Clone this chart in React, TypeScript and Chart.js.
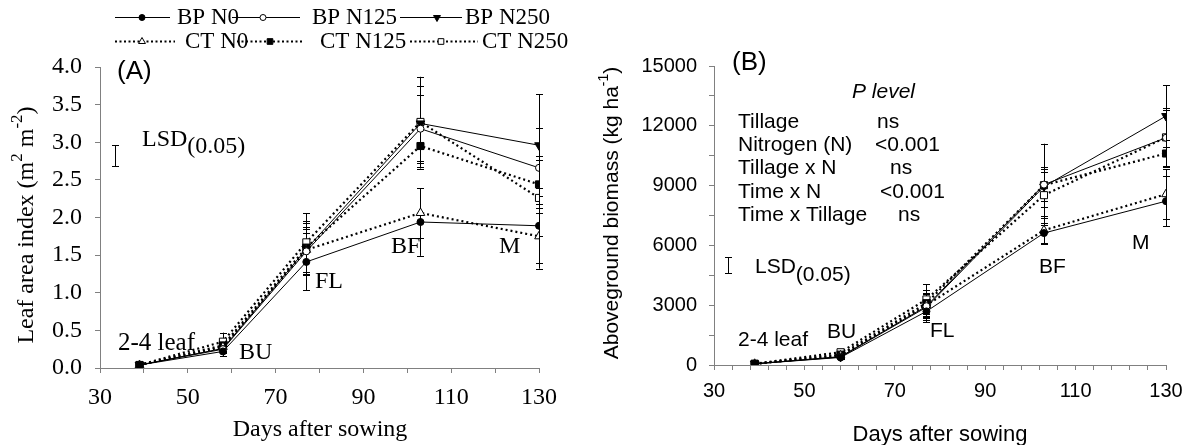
import React, { useEffect, useRef } from 'react';
import { Chart, registerables } from 'chart.js';

Chart.register(...registerables);

// Sampling days (days after sowing) and growth stages
const days = [39, 58, 77, 103, 130];
const seriesNames = ['BP N0', 'BP N125', 'BP N250', 'CT N0', 'CT N125', 'CT N250'];

// Leaf area index (m2 m-2)
const laiBPN0 = [0.04, 0.22, 1.41, 1.94, 1.89];
const laiBPN125 = [0.04, 0.25, 1.55, 3.18, 2.66];
const laiBPN250 = [0.04, 0.26, 1.58, 3.25, 2.96];
const laiCTN0 = [0.04, 0.28, 1.57, 2.06, 1.75];
const laiCTN125 = [0.04, 0.3, 1.6, 2.95, 2.44];
const laiCTN250 = [0.04, 0.35, 1.67, 3.27, 2.26];

// Standard errors for leaf area index
const laiErrBPN0 = [0.01, 0.06, 0.38, 0.45, 0.5];
const laiErrBPN125 = [0.01, 0.05, 0.3, 0.45, 0.53];
const laiErrBPN250 = [0.01, 0.05, 0.35, 0.5, 0.68];
const laiErrCTN0 = [0.01, 0.06, 0.3, 0.33, 0.43];
const laiErrCTN125 = [0.01, 0.07, 0.35, 0.3, 0.38];
const laiErrCTN250 = [0.01, 0.12, 0.39, 0.6, 0.5];

// Aboveground biomass (kg ha-1)
const bioBPN0 = [60, 380, 2690, 6620, 8220];
const bioBPN125 = [60, 420, 2950, 9050, 11400];
const bioBPN250 = [60, 400, 2900, 8950, 12490];
const bioCTN0 = [60, 480, 3000, 6760, 8570];
const bioCTN125 = [60, 520, 3100, 9020, 10610];
const bioCTN250 = [60, 640, 3290, 8520, 11420];

// Standard errors for biomass
const bioErrBPN0 = [20, 80, 530, 500, 1260];
const bioErrBPN125 = [20, 90, 600, 2050, 1400];
const bioErrBPN250 = [20, 90, 650, 1000, 1550];
const bioErrCTN0 = [20, 100, 600, 700, 1250];
const bioErrCTN125 = [20, 100, 650, 800, 700];
const bioErrCTN250 = [20, 120, 750, 1150, 1450];

// LSD(0.05) bars: [day position, low, high]
const laiLsd = [33.4, 2.68, 2.97];
const bioLsd = [33.1, 4640, 5420];

// Axis tick labels
const laiYTicks = ['0.0', '0.5', '1.0', '1.5', '2.0', '2.5', '3.0', '3.5', '4.0'];
const bioYTicks = ['0', '3000', '6000', '9000', '12000', '15000'];
const xTickLabels = ['30', '50', '70', '90', '110', '130'];

// P values of the ANOVA table
const anovaTerms = ['Tillage', 'Nitrogen (N)', 'Tillage x N', 'Time x N', 'Time x Tillage'];
const anovaP = ['ns', '<0.001', 'ns', '<0.001', 'ns'];

const SERIF = '"Liberation Serif", "Times New Roman", serif';
const SANS = '"Liberation Sans", Arial, sans-serif';

type Shape = 'circle' | 'rect' | 'triangle' | 'triangleDown';
const seriesStyle: { dotted: boolean; shape: Shape; filled: boolean; r: number }[] = [
  { dotted: false, shape: 'circle', filled: true, r: 3.5 },
  { dotted: false, shape: 'circle', filled: false, r: 3.5 },
  { dotted: false, shape: 'triangleDown', filled: true, r: 5 },
  { dotted: true, shape: 'triangle', filled: false, r: 5 },
  { dotted: true, shape: 'rect', filled: true, r: 5 },
  { dotted: true, shape: 'rect', filled: false, r: 5 },
];

type Seg = { t: string; font: string; dy?: number };

function drawRich(ctx: CanvasRenderingContext2D, segs: Seg[], x: number, y: number, align: 'left' | 'center') {
  let w = 0;
  for (const s of segs) {
    ctx.font = s.font;
    w += ctx.measureText(s.t).width;
  }
  let cx = align === 'center' ? x - w / 2 : x;
  ctx.textAlign = 'left';
  ctx.textBaseline = 'middle';
  ctx.fillStyle = '#000';
  for (const s of segs) {
    ctx.font = s.font;
    ctx.fillText(s.t, cx, y + (s.dy || 0));
    cx += ctx.measureText(s.t).width;
  }
}

function drawRotated(ctx: CanvasRenderingContext2D, segs: Seg[], cx: number, cy: number) {
  ctx.save();
  ctx.translate(cx, cy);
  ctx.rotate(-Math.PI / 2);
  drawRich(ctx, segs, 0, 0, 'center');
  ctx.restore();
}

function drawMarker(ctx: CanvasRenderingContext2D, shape: Shape, filled: boolean, x: number, y: number, r: number) {
  ctx.beginPath();
  if (shape === 'circle') {
    ctx.arc(x, y, r, 0, Math.PI * 2);
  } else if (shape === 'rect') {
    const h = r * Math.SQRT1_2;
    ctx.rect(x - h, y - h, 2 * h, 2 * h);
  } else {
    let a = shape === 'triangle' ? 0 : Math.PI;
    for (let k = 0; k < 3; k++) {
      const px = x + Math.sin(a) * r;
      const py = y - Math.cos(a) * r;
      if (k === 0) ctx.moveTo(px, py);
      else ctx.lineTo(px, py);
      a += (Math.PI * 2) / 3;
    }
    ctx.closePath();
  }
  ctx.fillStyle = filled ? '#000' : '#fff';
  ctx.fill();
  ctx.lineWidth = 1;
  ctx.strokeStyle = '#000';
  ctx.setLineDash([]);
  ctx.stroke();
}

function buildDatasets(values: number[][], errors: number[][]) {
  return values.map((vals, i) => {
    const st = seriesStyle[i];
    return {
      label: seriesNames[i],
      data: days.map((d, k) => ({ x: d, y: vals[k] })),
      errorBars: errors[i],
      borderColor: '#000',
      borderWidth: st.dotted ? 2.2 : 1,
      borderDash: st.dotted ? [2, 3] : [],
      pointStyle: st.shape === 'triangleDown' ? 'triangle' : st.shape,
      rotation: st.shape === 'triangleDown' ? 180 : 0,
      pointRadius: st.r,
      pointBackgroundColor: st.filled ? '#000' : '#fff',
      pointBorderColor: '#000',
      pointBorderWidth: 1,
      fill: false,
      tension: 0,
    };
  });
}

// Vertical error bars with caps, drawn below the markers
const errorBarPlugin = {
  id: 'errorBars',
  beforeDatasetsDraw(chart: any) {
    const { ctx, scales } = chart;
    const xs = scales.x;
    const ys = scales.y;
    ctx.save();
    ctx.strokeStyle = '#000';
    ctx.lineWidth = 1;
    ctx.setLineDash([]);
    chart.data.datasets.forEach((ds: any) => {
      ds.data.forEach((p: any, i: number) => {
        const e = ds.errorBars[i];
        const px = Math.round(xs.getPixelForValue(p.x)) + 0.5;
        const top = ys.getPixelForValue(p.y + e);
        const bot = ys.getPixelForValue(p.y - e);
        ctx.beginPath();
        ctx.moveTo(px, top);
        ctx.lineTo(px, bot);
        ctx.moveTo(px - 3.5, Math.round(top) + 0.5);
        ctx.lineTo(px + 3.5, Math.round(top) + 0.5);
        ctx.moveTo(px - 3.5, Math.round(bot) + 0.5);
        ctx.lineTo(px + 3.5, Math.round(bot) + 0.5);
        ctx.stroke();
      });
    });
    ctx.restore();
  },
};

function lsdPlugin(lsd: number[]) {
  return {
    id: 'lsdBar',
    afterDatasetsDraw(chart: any) {
      const { ctx, scales } = chart;
      const px = Math.round(scales.x.getPixelForValue(lsd[0])) + 0.5;
      const top = Math.round(scales.y.getPixelForValue(lsd[2])) + 0.5;
      const bot = Math.round(scales.y.getPixelForValue(lsd[1])) + 0.5;
      ctx.save();
      ctx.strokeStyle = '#000';
      ctx.lineWidth = 1;
      ctx.beginPath();
      ctx.moveTo(px, top);
      ctx.lineTo(px, bot);
      ctx.moveTo(px - 3.5, top);
      ctx.lineTo(px + 3.5, top);
      ctx.moveTo(px - 3.5, bot);
      ctx.lineTo(px + 3.5, bot);
      ctx.stroke();
      ctx.restore();
    },
  };
}

function textPlugin(draw: (ctx: CanvasRenderingContext2D) => void) {
  return {
    id: 'texts',
    afterDraw(chart: any) {
      const ctx = chart.ctx as CanvasRenderingContext2D;
      ctx.save();
      draw(ctx);
      ctx.restore();
    },
  };
}

function axisOptions(
  min: number,
  max: number,
  step: number,
  labels: string[],
  labelStep: number,
  fontFamily: string,
  fontSize: number,
  padding: number,
  fit: (s: any) => void
) {
  return {
    type: 'linear' as const,
    min,
    max,
    afterFit: fit,
    ticks: {
      stepSize: step,
      autoSkip: false,
      maxRotation: 0,
      padding,
      color: '#000',
      font: { family: fontFamily, size: fontSize },
      callback: (v: number) => {
        const k = (v - min) / labelStep;
        return Math.abs(k - Math.round(k)) < 1e-6 ? labels[Math.round(k)] : '';
      },
    },
    grid: { drawOnChartArea: false, drawTicks: true, tickLength: 5, color: '#808080', lineWidth: 1 },
    border: { color: '#808080', width: 1 },
  };
}

function drawLegend(ctx: CanvasRenderingContext2D) {
  const rows = [
    { y: 17, items: [
      { s: 0, x0: 115, x1: 170, m: 142, tx: 177 },
      { s: 1, x0: 232, x1: 300, m: 263, tx: 312 },
      { s: 2, x0: 400, x1: 462, m: 437, tx: 465 },
    ] },
    { y: 41, items: [
      { s: 3, x0: 115, x1: 175, m: 142, tx: 185 },
      { s: 4, x0: 237, x1: 302, m: 270, tx: 320 },
      { s: 5, x0: 410, x1: 478, m: 441, tx: 482 },
    ] },
  ];
  for (const row of rows) {
    for (const it of row.items) {
      const st = seriesStyle[it.s];
      ctx.beginPath();
      ctx.strokeStyle = '#000';
      ctx.lineWidth = st.dotted ? 2 : 1;
      ctx.setLineDash(st.dotted ? [2, 2.5] : []);
      ctx.moveTo(it.x0, row.y + 0.5);
      ctx.lineTo(it.x1, row.y + 0.5);
      ctx.stroke();
      ctx.setLineDash([]);
      drawMarker(ctx, st.shape, st.filled, it.m, row.y + 0.5, st.shape === 'circle' ? 3 : 4);
      drawRich(ctx, [{ t: seriesNames[it.s], font: `23px ${SERIF}` }], it.tx, row.y + 1, 'left');
    }
  }
}

function drawPanelA(ctx: CanvasRenderingContext2D) {
  drawLegend(ctx);
  const f = `24px ${SERIF}`;
  drawRich(ctx, [{ t: '(A)', font: `26px ${SANS}` }], 117, 72, 'left');
  drawRich(ctx, [{ t: 'LSD', font: f }, { t: '(0.05)', font: f, dy: 7 }], 142, 140, 'left');
  drawRich(ctx, [{ t: '2-4 leaf', font: `25px ${SERIF}` }], 118, 343, 'left');
  drawRich(ctx, [{ t: 'BU', font: f }], 239, 353, 'left');
  drawRich(ctx, [{ t: 'FL', font: f }], 315, 282, 'left');
  drawRich(ctx, [{ t: 'BF', font: f }], 391, 247, 'left');
  drawRich(ctx, [{ t: 'M', font: f }], 499, 247, 'left');
  drawRich(ctx, [{ t: 'Days after sowing', font: f }], 320, 430, 'center');
  const sup = `17px ${SERIF}`;
  drawRotated(ctx, [
    { t: 'Leaf area index (m', font: f },
    { t: '2', font: sup, dy: -9 },
    { t: ' m', font: f },
    { t: '-2', font: sup, dy: -9 },
    { t: ')', font: f },
  ], 27, 225);
}

function drawPanelB(ctx: CanvasRenderingContext2D) {
  const f = `21px ${SANS}`;
  drawRich(ctx, [{ t: '(B)', font: `26px ${SANS}` }], 142, 63, 'left');
  drawRich(ctx, [{ t: 'P level', font: `italic 21px ${SANS}` }], 262, 92, 'left');
  const rowY = [122, 145, 168, 192, 215];
  const valX = [287, 285, 300, 290, 308];
  anovaTerms.forEach((t, i) => {
    drawRich(ctx, [{ t, font: f }], 148, rowY[i], 'left');
    drawRich(ctx, [{ t: anovaP[i], font: f }], valX[i], rowY[i], 'left');
  });
  drawRich(ctx, [{ t: 'LSD', font: f }, { t: '(0.05)', font: f, dy: 8 }], 165, 267, 'left');
  drawRich(ctx, [{ t: '2-4 leaf', font: f }], 148, 340, 'left');
  drawRich(ctx, [{ t: 'BU', font: f }], 237, 332, 'left');
  drawRich(ctx, [{ t: 'FL', font: f }], 340, 331, 'left');
  drawRich(ctx, [{ t: 'BF', font: f }], 449, 267, 'left');
  drawRich(ctx, [{ t: 'M', font: f }], 542, 243, 'left');
  drawRich(ctx, [{ t: 'Days after sowing', font: `22px ${SANS}` }], 350, 435, 'center');
  drawRotated(ctx, [
    { t: 'Aboveground biomass (kg ha', font: f },
    { t: '-1', font: `14px ${SANS}`, dy: -8 },
    { t: ')', font: f },
  ], 22, 213);
}

export default function App() {
  const refA = useRef<HTMLCanvasElement>(null);
  const refB = useRef<HTMLCanvasElement>(null);

  useEffect(() => {
    const chartA = new Chart(refA.current as HTMLCanvasElement, {
      type: 'line',
      data: {
        datasets: buildDatasets(
          [laiBPN0, laiBPN125, laiBPN250, laiCTN0, laiCTN125, laiCTN250],
          [laiErrBPN0, laiErrBPN125, laiErrBPN250, laiErrCTN0, laiErrCTN125, laiErrCTN250]
        ) as any,
      },
      options: {
        responsive: false,
        animation: false,
        layout: { padding: { left: 0, top: 67, right: 51, bottom: 0 } },
        plugins: { legend: { display: false }, tooltip: { enabled: false } },
        scales: {
          x: axisOptions(30, 130, 10, xTickLabels, 20, SERIF, 24, 10, (s: any) => { s.height = 77; }),
          y: axisOptions(0, 4, 0.5, laiYTicks, 0.5, SERIF, 24, 13, (s: any) => { s.width = 100; }),
        } as any,
      },
      plugins: [errorBarPlugin, lsdPlugin(laiLsd), textPlugin(drawPanelA)],
    });

    const chartB = new Chart(refB.current as HTMLCanvasElement, {
      type: 'line',
      data: {
        datasets: buildDatasets(
          [bioBPN0, bioBPN125, bioBPN250, bioCTN0, bioCTN125, bioCTN250],
          [bioErrBPN0, bioErrBPN125, bioErrBPN250, bioErrCTN0, bioErrCTN125, bioErrCTN250]
        ) as any,
      },
      options: {
        responsive: false,
        animation: false,
        layout: { padding: { left: 0, top: 66, right: 26, bottom: 0 } },
        plugins: { legend: { display: false }, tooltip: { enabled: false } },
        scales: {
          x: axisOptions(30, 130, 4, xTickLabels, 20, SANS, 20, 9, (s: any) => { s.height = 80; }),
          y: axisOptions(0, 15000, 1500, bioYTicks, 3000, SANS, 20, 12, (s: any) => { s.width = 124; }),
        } as any,
      },
      plugins: [errorBarPlugin, lsdPlugin(bioLsd), textPlugin(drawPanelB)],
    });

    return () => {
      chartA.destroy();
      chartB.destroy();
    };
  }, []);

  return (
    <div style={{ position: 'fixed', left: 0, top: 0, width: 1192, height: 445, background: '#fff' }}>
      <canvas ref={refA} width={590} height={445} style={{ position: 'absolute', left: 0, top: 0 }} />
      <canvas ref={refB} width={602} height={445} style={{ position: 'absolute', left: 590, top: 0 }} />
    </div>
  );
}
